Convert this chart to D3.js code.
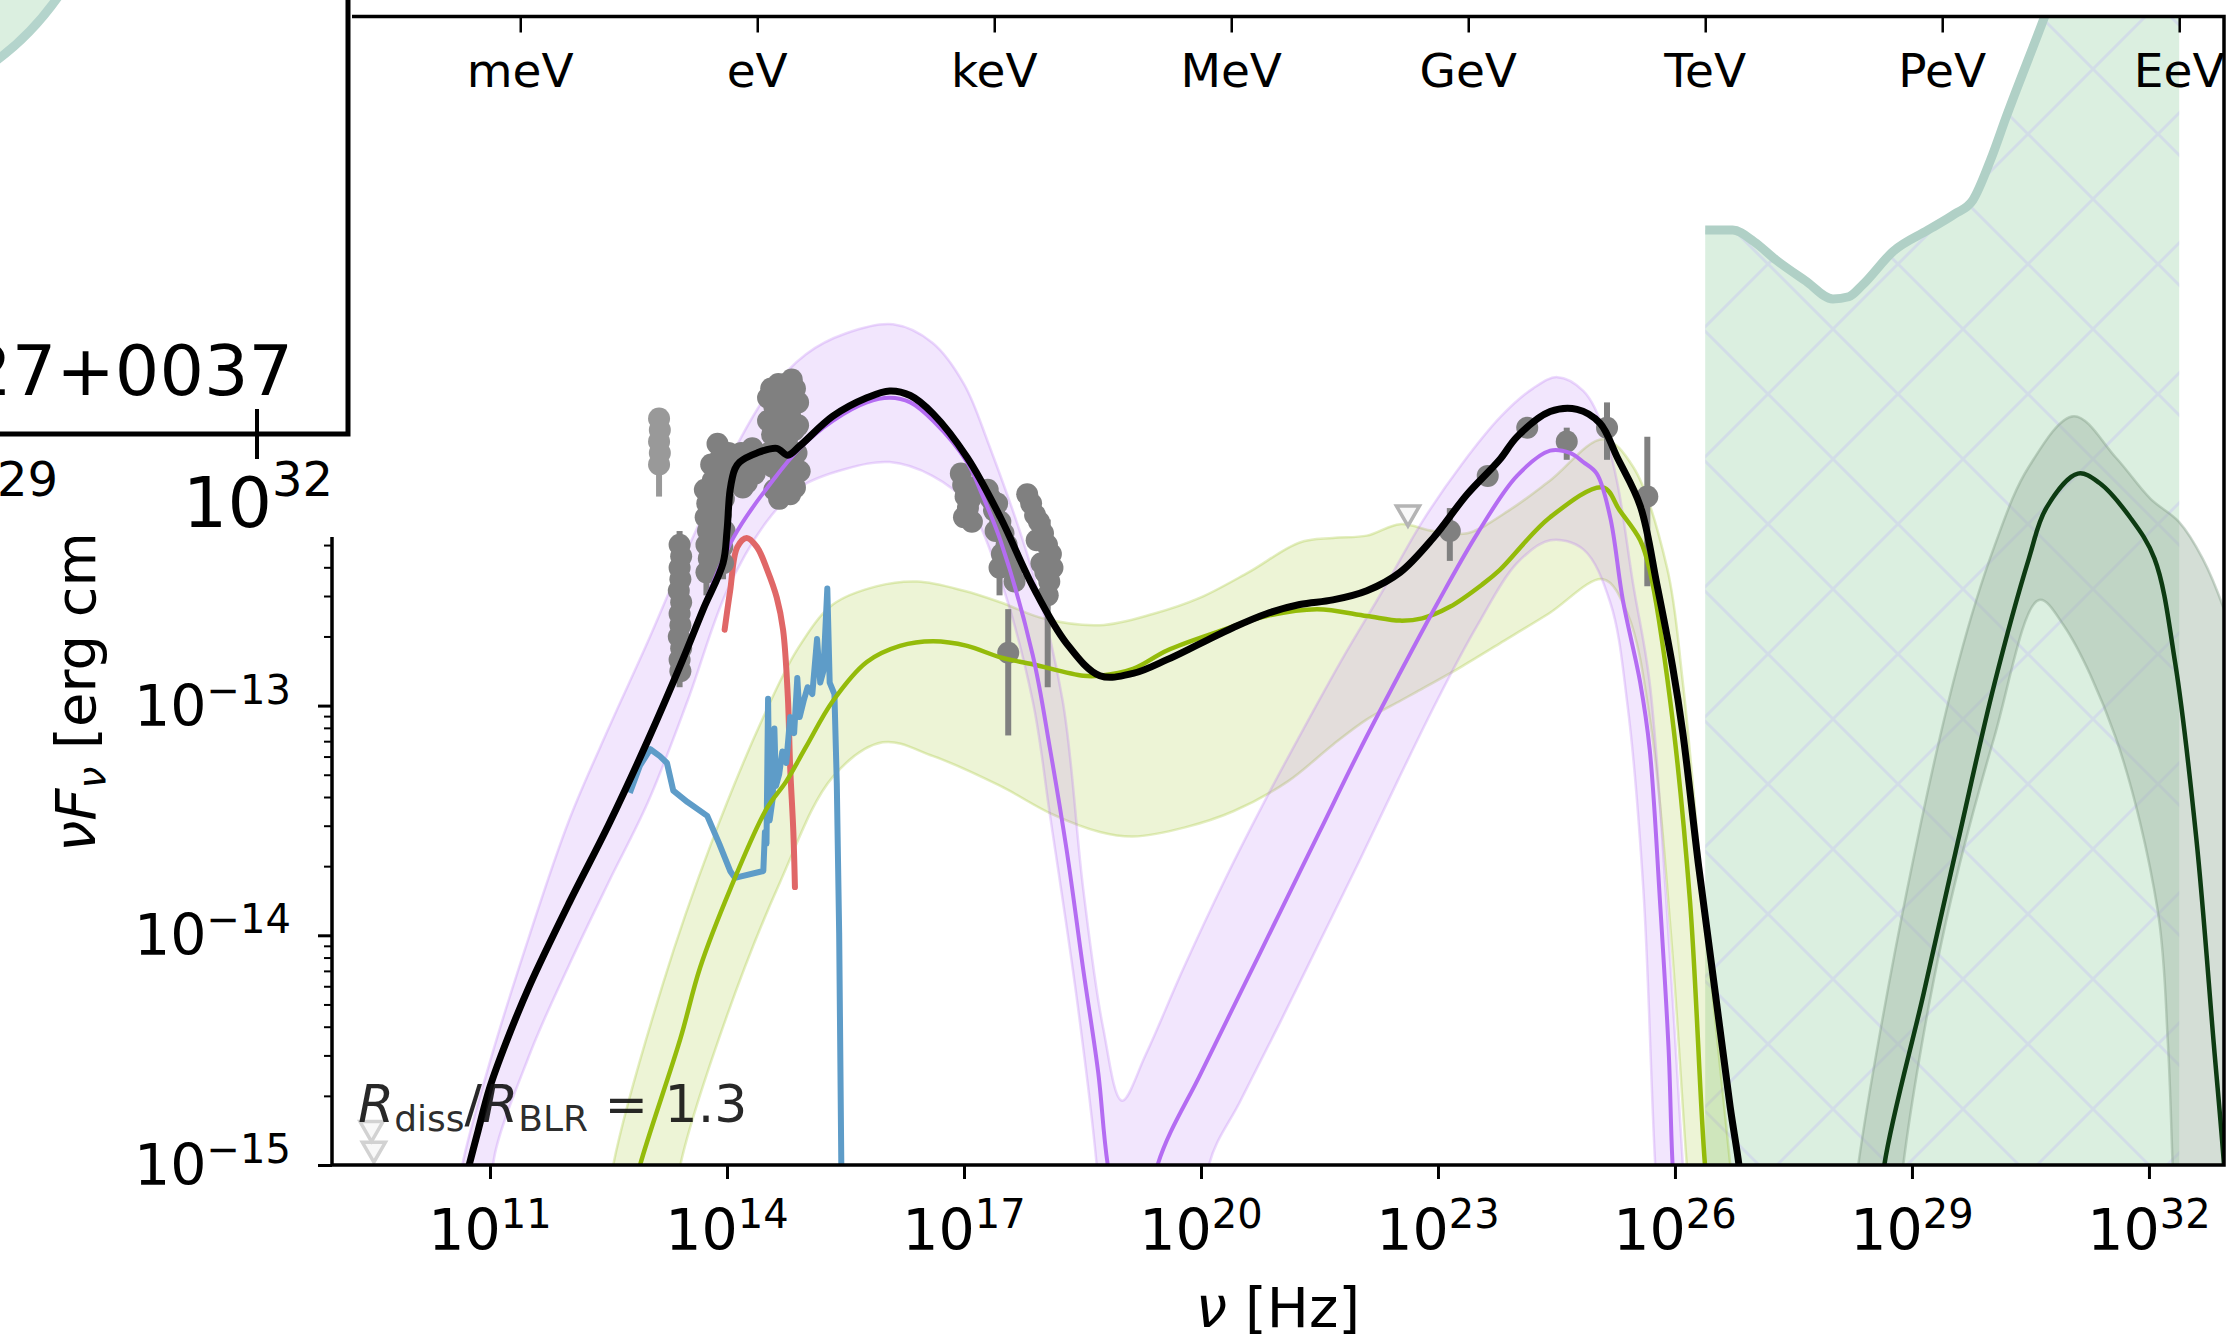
<!DOCTYPE html>
<html>
<head>
<meta charset="utf-8">
<script src="https://cdn.jsdelivr.net/npm/d3@7"></script>
<style>
  body { margin: 0; background: #fff; }
  svg { display: block; font-family: "DejaVu Sans", sans-serif; }
</style>
</head>
<body>
<svg id="chart" width="2227" height="1341"></svg>
<script>
// All values are log10(nu / Hz) and log10(nuFnu / erg cm^-2 s^-1).

// total model (black)
const totalSED = [
  [10.6,-15.2],[10.7,-15.05],[10.85,-14.85],[11.0,-14.66],[11.2,-14.47],[11.5,-14.22],
  [12.0,-13.86],[12.5,-13.52],[13.0,-13.15],[13.44,-12.8],[13.7,-12.58],[13.95,-12.38],
  [14.0,-12.24],[14.04,-12.06],[14.1,-11.97],[14.16,-11.94],[14.38,-11.9],[14.63,-11.88],
  [14.77,-11.91],[14.92,-11.87],[15.34,-11.74],[15.77,-11.66],[16.06,-11.63],[16.32,-11.65],
  [16.61,-11.73],[17.04,-11.92],[17.46,-12.18],[17.87,-12.48],[18.3,-12.73],[18.72,-12.87],
  [19.14,-12.86],[19.57,-12.8],[19.99,-12.73],[20.41,-12.66],[20.83,-12.6],[21.25,-12.56],
  [21.67,-12.54],[22.1,-12.5],[22.52,-12.42],[22.94,-12.27],[23.37,-12.08],[23.78,-11.93],
  [24.0,-11.83],[24.42,-11.72],[24.76,-11.71],[25.05,-11.77],[25.27,-11.92],[25.56,-12.13],
  [25.77,-12.47],[25.97,-12.83],[26.1,-13.12],[26.3,-13.7],[26.51,-14.25],[26.7,-14.75],
  [26.81,-15.0],[26.9,-15.3]
];

// leptonic component (purple) with its band
const leptonic = [
  [10.6,-15.2],[10.7,-15.05],[10.85,-14.85],[11.0,-14.66],[11.2,-14.47],[11.5,-14.22],
  [12.0,-13.86],[12.5,-13.52],[13.0,-13.15],[13.44,-12.8],[14.08,-12.27],[14.58,-12.02],
  [14.92,-11.88],[15.34,-11.76],[15.77,-11.68],[16.06,-11.66],[16.32,-11.68],[16.61,-11.76],
  [17.04,-11.94],[17.24,-12.09],[17.46,-12.28],[17.87,-12.78],[18.09,-13.19],[18.3,-13.63],
  [18.51,-14.15],[18.7,-14.6],[18.82,-15.0],[19.15,-15.6],[19.45,-15.0],[20.0,-14.6],
  [20.5,-14.25],[21.0,-13.9],[21.5,-13.55],[22.0,-13.2],[22.5,-12.87],[23.0,-12.55],
  [23.5,-12.25],[24.0,-12.0],[24.42,-11.89],[24.67,-11.9],[24.84,-11.94],[25.01,-11.99],
  [25.18,-12.18],[25.34,-12.54],[25.56,-12.9],[25.68,-13.19],[25.81,-13.85],[25.92,-14.5],
  [25.97,-15.0],[26.05,-15.4]
];
const leptonicUpper = [
  [10.6,-15.15],[10.65,-15.0],[11.0,-14.55],[11.5,-14.0],[12.0,-13.5],[12.5,-13.1],
  [13.0,-12.72],[13.5,-12.32],[14.0,-11.95],[14.5,-11.65],[15.0,-11.47],[15.5,-11.38],
  [16.1,-11.34],[16.6,-11.42],[17.0,-11.6],[17.3,-11.85],[17.87,-12.42],[18.25,-12.98],
  [18.51,-13.8],[18.76,-14.4],[19.0,-14.72],[19.3,-14.52],[19.77,-14.15],[20.3,-13.76],
  [20.8,-13.42],[21.3,-13.1],[21.8,-12.79],[22.3,-12.5],[22.8,-12.2],[23.3,-11.95],
  [23.8,-11.74],[24.2,-11.62],[24.51,-11.57],[24.84,-11.63],[25.09,-11.79],[25.27,-12.03],
  [25.47,-12.47],[25.68,-12.9],[25.9,-13.9],[26.1,-15.0],[26.2,-15.5]
];
const leptonicLower = [
  [11.1,-15.15],[11.04,-15.0],[11.5,-14.52],[12.0,-14.13],[12.5,-13.77],[13.0,-13.42],
  [13.5,-12.98],[14.0,-12.5],[14.5,-12.2],[14.92,-12.05],[15.5,-11.97],[16.06,-11.94],
  [16.6,-12.0],[17.04,-12.12],[17.46,-12.45],[17.87,-12.98],[18.09,-13.48],[18.43,-14.28],
  [18.68,-15.0],[18.8,-15.6],[20.0,-15.6],[20.1,-15.0],[20.5,-14.72],[21.0,-14.38],
  [21.5,-14.03],[22.0,-13.68],[22.5,-13.32],[23.0,-12.97],[23.5,-12.65],[24.0,-12.38],
  [24.42,-12.28],[24.84,-12.32],[25.18,-12.55],[25.4,-13.0],[25.6,-13.8],[25.75,-15.0],[25.85,-15.5]
];

// hadronic component (yellow-green) with its band
const hadronic = [
  [12.8,-15.15],[12.9,-15.0],[13.41,-14.45],[13.66,-14.14],[14.04,-13.8],[14.5,-13.45],
  [14.75,-13.33],[15.0,-13.18],[15.34,-12.98],[15.77,-12.81],[16.19,-12.74],[16.61,-12.72],
  [17.04,-12.74],[17.46,-12.79],[17.87,-12.82],[18.51,-12.87],[18.72,-12.87],[19.14,-12.84],
  [19.57,-12.76],[20.2,-12.68],[20.83,-12.61],[21.47,-12.58],[22.1,-12.61],[22.52,-12.63],
  [22.8,-12.62],[23.15,-12.57],[23.57,-12.47],[23.78,-12.41],[24.42,-12.18],[25.09,-12.05],
  [25.3,-12.15],[25.56,-12.28],[25.68,-12.41],[25.94,-12.98],[26.19,-13.85],[26.38,-15.0],[26.5,-15.4]
];
const hadronicUpper = [
  [12.45,-15.3],[12.56,-15.0],[13.19,-14.21],[13.8,-13.6],[14.46,-13.05],[14.9,-12.75],
  [15.34,-12.56],[15.9,-12.48],[16.41,-12.46],[17.0,-12.5],[17.46,-12.55],[18.0,-12.62],
  [18.72,-12.65],[19.4,-12.6],[19.99,-12.53],[20.6,-12.42],[21.25,-12.29],[21.67,-12.27],
  [22.1,-12.26],[22.52,-12.21],[22.94,-12.24],[23.37,-12.25],[23.9,-12.15],[24.42,-12.02],
  [25.09,-11.84],[25.47,-11.96],[25.9,-12.4],[26.1,-12.9],[26.4,-14.0],[26.7,-15.0],[26.8,-15.4]
];
const hadronicLower = [
  [13.3,-15.3],[13.41,-15.0],[14.0,-14.35],[14.67,-13.77],[15.34,-13.31],[15.97,-13.16],
  [16.61,-13.22],[17.46,-13.35],[18.1,-13.47],[18.72,-13.55],[19.14,-13.57],[19.8,-13.53],
  [20.41,-13.46],[21.1,-13.33],[21.67,-13.17],[22.1,-13.06],[22.52,-12.98],[22.73,-12.94],
  [23.3,-12.83],[23.78,-12.73],[24.4,-12.6],[25.09,-12.45],[25.4,-12.6],[25.7,-13.1],
  [25.95,-14.0],[26.15,-15.0],[26.25,-15.4]
];

// accretion disk (red) and host / other (blue)
const diskSED = [
  [13.97,-12.67],[14.04,-12.5],[14.13,-12.31],[14.25,-12.27],[14.38,-12.31],[14.51,-12.41],
  [14.63,-12.53],[14.71,-12.67],[14.77,-12.96],[14.8,-13.27],[14.84,-13.55],[14.86,-13.79]
];
const blueSED = [
  [12.77,-13.38],[12.9,-13.26],[13.03,-13.19],[13.15,-13.22],[13.24,-13.25],[13.32,-13.37],
  [13.5,-13.42],[13.75,-13.48],[13.9,-13.6],[14.04,-13.72],[14.1,-13.75],[14.46,-13.72],
  [14.48,-13.55],[14.5,-13.6],[14.52,-12.97],[14.54,-13.5],[14.58,-13.4],[14.6,-13.1],
  [14.62,-13.35],[14.66,-13.3],[14.7,-13.2],[14.75,-13.25],[14.8,-13.05],[14.85,-13.12],
  [14.89,-12.88],[14.92,-13.05],[14.97,-12.98],[15.02,-12.92],[15.08,-12.95],[15.14,-12.71],
  [15.18,-12.9],[15.22,-12.85],[15.27,-12.49],[15.3,-12.9],[15.36,-12.95],[15.39,-13.34],
  [15.42,-13.99],[15.45,-15.1]
];

// observed fluxes: [nu, flux, errLow, errHigh]
const fadedPoints = [
  [13.14,-11.75,-11.71,-11.8],[13.15,-11.8],[13.14,-11.85],[13.15,-11.9],[13.14,-11.95,-11.86,-12.09]
];
const sedPoints = [
  [13.4,-12.3,-12.24,-12.36],[13.42,-12.35],[13.4,-12.4],[13.41,-12.45],[13.39,-12.5],
  [13.42,-12.55],[13.4,-12.6],[13.41,-12.65],[13.39,-12.7],[13.42,-12.75],[13.4,-12.8,-12.7,-12.92],[13.41,-12.85],
  [13.72,-12.06],[13.75,-12.12],[13.73,-12.18],[13.76,-12.24],[13.74,-12.3],[13.77,-12.36],[13.74,-12.42,-12.35,-12.52],
  [13.8,-11.95],[13.82,-12.02],[13.84,-12.1],[13.81,-12.18],[13.83,-12.26],[13.8,-12.33],
  [13.88,-11.86],[13.92,-11.92],[13.95,-11.98],[13.9,-12.04],[13.96,-12.1],[13.92,-12.17],[13.97,-12.24],[13.94,-12.31],[13.95,-12.38,-12.3,-12.45],
  [14.02,-11.9],[14.06,-11.98],
  [14.18,-11.9],[14.22,-11.96],[14.28,-11.93],[14.32,-11.88],[14.35,-11.99],[14.4,-11.95],[14.25,-12.03],[14.2,-12.05],
  [14.52,-11.66],[14.56,-11.62],[14.6,-11.7],[14.65,-11.6],[14.7,-11.66],[14.74,-11.6],[14.78,-11.64],[14.82,-11.58],[14.86,-11.62,-11.56,-11.66],[14.9,-11.68],
  [14.52,-11.76],[14.57,-11.82],[14.62,-11.78],[14.67,-11.86],[14.72,-11.76],[14.76,-11.84],[14.8,-11.74],[14.85,-11.8],[14.9,-11.78],
  [14.53,-11.9],[14.58,-11.96],[14.63,-11.92],[14.68,-12.0],[14.73,-11.94],[14.78,-12.02],[14.83,-11.96],[14.88,-11.9],[14.92,-11.98],
  [14.6,-12.06],[14.66,-12.1],[14.72,-12.06],[14.8,-12.08],[14.86,-12.05],
  [16.96,-11.99],[16.99,-12.04],[17.02,-12.09],[17.05,-12.14],[17.08,-12.1],[17.12,-12.05],[17.0,-12.18],[17.1,-12.2],
  [17.3,-12.06],[17.34,-12.1],[17.38,-12.15],[17.42,-12.12],[17.46,-12.2],[17.5,-12.25],[17.4,-12.24],
  [17.54,-12.3],[17.58,-12.35],[17.62,-12.4],[17.48,-12.34],[17.45,-12.4,-12.3,-12.52],[17.64,-12.46],
  [17.8,-12.08],[17.85,-12.12],[17.9,-12.17],[17.95,-12.2],[18.0,-12.25],[18.05,-12.3],[18.1,-12.34],
  [17.98,-12.38],[18.03,-12.42],[18.08,-12.46],[18.06,-12.52,-12.19,-12.92],[17.92,-12.28],[18.12,-12.4],
  [17.56,-12.77,-12.58,-13.13],
  [23.15,-12.24,-12.14,-12.37],[23.63,-12.0],[24.13,-11.79],[24.63,-11.85,-11.79,-11.93],
  [25.14,-11.79,-11.68,-11.93],[25.65,-12.09,-11.83,-12.48]
];
const upperLimits = [[22.62,-12.16]];
const faintLimits = [[9.5,-14.84],[9.53,-14.93]];

// neutrino model (dark green) with its band, and the sensitivity limit
const nuModel = [
  [28.55,-15.4],[28.65,-15.0],[29.15,-14.25],[29.59,-13.58],[30.04,-12.91],[30.48,-12.36],
  [30.7,-12.14],[31.1,-11.99],[31.37,-12.03],[31.76,-12.18],[32.07,-12.36],[32.33,-12.81],
  [32.6,-13.58],[32.82,-14.47],[32.95,-15.0],[33.0,-15.3]
];
const nuUpper = [
  [28.2,-15.4],[28.32,-15.0],[28.94,-13.8],[29.59,-12.81],[30.04,-12.31],[30.48,-11.96],
  [31.05,-11.74],[31.58,-11.92],[32.02,-12.1],[32.38,-12.2],[32.68,-12.36],[32.95,-12.58],
  [33.1,-12.75],[33.2,-15.5]
];
const nuLower = [
  [28.8,-15.4],[28.89,-15.0],[29.38,-14.02],[30.04,-13.14],[30.61,-12.54],[30.92,-12.65],
  [31.58,-13.14],[32.11,-13.89],[32.24,-14.47],[32.3,-15.0],[32.35,-15.4]
];
const nuLimit = [
  [26.383,-10.93],[26.73,-10.93],[27.0,-10.98],[27.28,-11.06],[27.65,-11.15],[28.0,-11.23],
  [28.2,-11.22],[28.37,-11.17],[28.77,-11.02],[29.2,-10.93],[29.54,-10.86],[29.77,-10.8],
  [30.0,-10.62],[30.19,-10.44],[30.68,-10.0],[31.0,-9.7],[32.383,-9.0]
];

// axes (the upper part of the y axis is hidden behind the neighbouring panel)
const xTickExp = [11, 14, 17, 20, 23, 26, 29, 32];
const yTickExp = [-15, -14, -13];
const energyLabels = ["meV", "eV", "keV", "MeV", "GeV", "TeV", "PeV", "EeV"];
const energyNu = [11.383, 14.383, 17.383, 20.383, 23.383, 26.383, 29.383, 32.383];

const L = 332, R = 2224, T = 16.5, B = 1165;
const x = d3.scaleLog().domain([1e9, Math.pow(10, 32.95)]).range([L, R]);
const y = d3.scaleLog().domain([1e-15, 1e-10]).range([B, T]);
const px = d => x(Math.pow(10, d[0]));
const py = d => y(Math.pow(10, d[1]));

const smooth = d3.line().x(px).y(py).curve(d3.curveCatmullRom.alpha(0.5));
const mono = d3.line().x(px).y(py).curve(d3.curveMonotoneX);
const straight = d3.line().x(px).y(py);
function band(upper, lower) {
  return smooth(upper) + smooth(lower.slice().reverse()).replace(/^M/, "L") + "Z";
}

const svg = d3.select("#chart");
const defs = svg.append("defs");
defs.append("clipPath").attr("id", "plotClip")
  .append("rect").attr("x", L).attr("y", T).attr("width", R - L).attr("height", B - T);

// cross hatch for the neutrino limit region
const hatch = defs.append("pattern").attr("id", "xhatch")
  .attr("patternUnits", "userSpaceOnUse")
  .attr("x", 78).attr("y", 4).attr("width", 130).attr("height", 130);
hatch.append("path").attr("d", "M0,0L130,130M0,130L130,0")
  .attr("stroke", "#c8c8f0").attr("stroke-opacity", 0.45).attr("stroke-width", 3);

const plot = svg.append("g").attr("clip-path", "url(#plotClip)");

// neutrino limit region
const limitArea = d3.area().x(px).y0(B + 20).y1(py).curve(d3.curveMonotoneX);
plot.append("path").attr("d", limitArea(nuLimit)).attr("fill", "#dbefe0");
plot.append("path").attr("d", limitArea(nuLimit)).attr("fill", "url(#xhatch)");
plot.append("path").attr("d", mono(nuLimit)).attr("fill", "none")
  .attr("stroke", "#b0d0c6").attr("stroke-width", 9);

// bands
function drawBand(up, lo, color, opacity) {
  plot.append("path").attr("d", band(up, lo)).attr("fill", color).attr("fill-opacity", opacity);
  [up, lo].forEach(edge => {
    plot.append("path").attr("d", smooth(edge)).attr("fill", "none")
      .attr("stroke", color).attr("stroke-opacity", 0.25).attr("stroke-width", 2.5);
  });
}
drawBand(hadronicUpper, hadronicLower, "#94bb0a", 0.17);
drawBand(leptonicUpper, leptonicLower, "#b46cf2", 0.17);

// neutrino band
plot.append("path").attr("d", band(nuUpper, nuLower)).attr("fill", "#9fb5a3").attr("fill-opacity", 0.45);
[nuUpper, nuLower].forEach(edge => {
  plot.append("path").attr("d", smooth(edge)).attr("fill", "none")
    .attr("stroke", "#7f9a85").attr("stroke-opacity", 0.4).attr("stroke-width", 2.5);
});

// disk and blue spectrum
plot.append("path").attr("d", smooth(diskSED)).attr("fill", "none")
  .attr("stroke", "#e06767").attr("stroke-width", 6).attr("stroke-linecap", "round");
plot.append("path").attr("d", straight(blueSED)).attr("fill", "none")
  .attr("stroke", "#5e9cc8").attr("stroke-width", 6).attr("stroke-linejoin", "round");

// data
function drawPoints(pts, opacity) {
  const g = plot.append("g").attr("opacity", opacity);
  g.selectAll("line").data(pts.filter(d => d[2] != null)).join("line")
    .attr("x1", px).attr("x2", px)
    .attr("y1", d => y(Math.pow(10, d[2]))).attr("y2", d => y(Math.pow(10, d[3])))
    .attr("stroke", "#808080").attr("stroke-width", 6);
  g.selectAll("circle").data(pts).join("circle")
    .attr("cx", px).attr("cy", py).attr("r", 11).attr("fill", "#808080");
}
drawPoints(fadedPoints, 0.8);
drawPoints(sedPoints, 1);

function drawLimits(pts, stroke) {
  plot.append("g").selectAll("path").data(pts).join("path")
    .attr("d", d3.symbol(d3.symbolTriangle, 230))
    .attr("transform", d => `translate(${px(d)},${py(d)}) rotate(180)`)
    .attr("fill", "#f4f4f4").attr("fill-opacity", 0.6).attr("stroke", stroke).attr("stroke-width", 3.5);
}
drawLimits(upperLimits, "#b4b4b4");
drawLimits(faintLimits, "#d2d2d2");

// model curves
plot.append("path").attr("d", smooth(hadronic)).attr("fill", "none")
  .attr("stroke", "#94bb0a").attr("stroke-width", 4.5);
plot.append("path").attr("d", smooth(leptonic)).attr("fill", "none")
  .attr("stroke", "#b46cf2").attr("stroke-width", 4);
plot.append("path").attr("d", smooth(nuModel)).attr("fill", "none")
  .attr("stroke", "#0d3b12").attr("stroke-width", 4.5);
plot.append("path").attr("d", smooth(totalSED)).attr("fill", "none")
  .attr("stroke", "#000").attr("stroke-width", 7);

// annotation
const note = svg.append("text").attr("x", 358).attr("y", 1122)
  .attr("font-size", 52).attr("fill", "#111").attr("fill-opacity", 0.9);
note.append("tspan").attr("font-style", "italic").text("R");
note.append("tspan").attr("font-size", 36).attr("dy", 9).text("diss");
note.append("tspan").attr("dy", -9).text("/");
note.append("tspan").attr("font-style", "italic").text("R");
note.append("tspan").attr("font-size", 36).attr("dy", 9).text("BLR");
note.append("tspan").attr("dy", -9).text(" = 1.3");

// x axis (bottom)
const xAxis = svg.append("g").attr("transform", `translate(0,${B})`)
  .call(d3.axisBottom(x).tickValues(xTickExp.map(e => Math.pow(10, e))).tickSize(14).tickSizeOuter(0).tickFormat(""));
xAxis.select(".domain").remove();
xAxis.selectAll("line").attr("stroke", "#000").attr("stroke-width", 3);
xTickExp.forEach(e => {
  const t = svg.append("text").attr("x", x(Math.pow(10, e))).attr("y", 1250)
    .attr("text-anchor", "middle").attr("font-size", 57);
  t.append("tspan").text("10");
  t.append("tspan").attr("font-size", 40).attr("dy", -22).text(e);
});
const xl = svg.append("text").attr("x", (L + R) / 2).attr("y", 1327)
  .attr("text-anchor", "middle").attr("font-size", 56);
xl.append("tspan").attr("font-style", "italic").text("ν");
xl.append("tspan").text(" [Hz]");

// top energy axis
const eAxis = svg.append("g").attr("transform", `translate(0,${T})`)
  .call(d3.axisBottom(x).tickValues(energyNu.map(e => Math.pow(10, e))).tickSize(16).tickSizeOuter(0).tickFormat(""));
eAxis.select(".domain").remove();
eAxis.selectAll("line").attr("stroke", "#000").attr("stroke-width", 2.5);
svg.selectAll(".elab").data(energyLabels).join("text")
  .attr("class", "elab")
  .attr("x", (d, i) => x(Math.pow(10, energyNu[i]))).attr("y", 87)
  .attr("text-anchor", "middle").attr("font-size", 47).text(d => d);

// y axis
const yMinor = [];
yTickExp.forEach(e => { for (let m = 2; m <= 9; m++) yMinor.push(m * Math.pow(10, e)); });
const yAxis = svg.append("g").attr("transform", `translate(${L},0)`)
  .call(d3.axisLeft(y).tickValues(yTickExp.map(e => Math.pow(10, e))).tickSize(14).tickSizeOuter(0).tickFormat(""));
yAxis.select(".domain").remove();
yAxis.selectAll("line").attr("stroke", "#000").attr("stroke-width", 3);
const yAxisMinor = svg.append("g").attr("transform", `translate(${L},0)`)
  .call(d3.axisLeft(y).tickValues(yMinor).tickSize(8).tickSizeOuter(0).tickFormat(""));
yAxisMinor.select(".domain").remove();
yAxisMinor.selectAll("line").attr("stroke", "#000").attr("stroke-width", 2);
yTickExp.forEach(e => {
  const t = svg.append("text").attr("x", 291).attr("y", y(Math.pow(10, e)) + 20)
    .attr("text-anchor", "end").attr("font-size", 57);
  t.append("tspan").text("10");
  t.append("tspan").attr("font-size", 40).attr("dy", -22).text("\u2212" + Math.abs(e));
});
const yl = svg.append("text").attr("transform", "translate(95,852) rotate(-90)").attr("font-size", 56);
yl.append("tspan").attr("font-style", "italic").text("νF");
yl.append("tspan").attr("font-style", "italic").attr("font-size", 39).attr("dy", 10).text("ν");
yl.append("tspan").attr("dy", -10).text(" [erg cm");

// spines
svg.append("path").attr("d", `M${L},${B}H${R}V${T}H${L}Z`)
  .attr("fill", "none").attr("stroke", "#000").attr("stroke-width", 3.5);

// corner of the neighbouring panel overlapping the top left
const ov = svg.append("g");
ov.append("rect").attr("x", 0).attr("y", 0).attr("width", 352).attr("height", 537).attr("fill", "#fff");
ov.append("path").attr("d", "M0,0L56,0Q30,34 0,58Z").attr("fill", "#dbefe0");
ov.append("path").attr("d", "M58,-3Q31,35 -3,60").attr("fill", "none")
  .attr("stroke", "#b4d4cc").attr("stroke-width", 9);
ov.append("path").attr("d", "M348,0V434H0").attr("fill", "none")
  .attr("stroke", "#000").attr("stroke-width", 5);
ov.append("path").attr("d", "M257,409V459").attr("stroke", "#000").attr("stroke-width", 4);
ov.append("text").attr("x", 293).attr("y", 395).attr("text-anchor", "end")
  .attr("font-size", 70).text("27+0037");
[["29", 58], ["32", 333]].forEach(([e, xr]) => {
  const t = ov.append("text").attr("x", xr).attr("y", 527).attr("text-anchor", "end").attr("font-size", 70);
  t.append("tspan").text("10");
  t.append("tspan").attr("font-size", 48).attr("dy", -31).text(e);
});
</script>
</body>
</html>
